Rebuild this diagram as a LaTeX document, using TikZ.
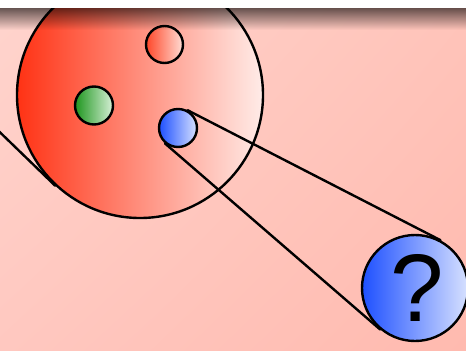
\documentclass[tikz,border=0pt]{standalone}
\usepackage{fontspec}
\setmainfont{Liberation Sans}
\usetikzlibrary{fadings,shadings}
\definecolor{bgTL}{RGB}{255,212,205}
\definecolor{bgTR}{RGB}{255,196,186}
\definecolor{bgBL}{RGB}{255,200,192}
\definecolor{bgBR}{RGB}{255,186,175}
\definecolor{bigL}{RGB}{255,50,20}
\definecolor{bigR}{RGB}{255,236,232}
\definecolor{redL}{RGB}{255,70,40}
\definecolor{redR}{RGB}{255,222,214}
\definecolor{greenL}{RGB}{30,150,30}
\definecolor{greenR}{RGB}{215,240,215}
\definecolor{blueL}{RGB}{30,80,255}
\definecolor{blueR}{RGB}{215,225,255}
\tikzfading[name=shadowfade, top color=transparent!40, bottom color=transparent!100]
\begin{document}
\begin{tikzpicture}[x=0.75pt,y=-0.75pt,
			ring/.style={circle, draw=black, line width=1.8pt, inner sep=0pt},
			tangentline/.style={line width=1.8pt, black, line cap=round}
			]
			\useasboundingbox (0,0) rectangle (466,350);
			\shade[upper left=bgTL, upper right=bgTR, lower left=bgBL, lower right=bgBR] (0,0) rectangle (466,350);
			\node[ring, minimum size=184.5pt, left color=bigL, right color=bigR] (big) at (140,95) {};
			\node[ring, minimum size=27.75pt, left color=redL, right color=redR] (redball) at (164.5,44.5) {};
			\node[ring, minimum size=28.5pt, left color=greenL, right color=greenR] (greenball) at (94,105.5) {};
			\node[ring, minimum size=28.5pt, left color=blueL, right color=blueR] (blueball) at (178,128) {};
			\node[ring, minimum size=79.5pt, left color=blueL, right color=blueR, font=\fontsize{72}{72}\selectfont] (query) at (415,288) {\raisebox{-1.5pt}{\hspace{3pt}?}};
			\coordinate (offleft) at (-20,113);
			\draw[tangentline] (blueball.62.8) -- (query.62.8);
			\draw[tangentline] (blueball.-130.8) -- (query.-130.8);
			\draw[tangentline] (offleft) -- (big.-133.5);
			% top band with shadow
			\fill[white] (0,0) rectangle (466,8);
			\fill[black, path fading=shadowfade] (0,8) rectangle (466,30);
		\end{tikzpicture}
\end{document}
